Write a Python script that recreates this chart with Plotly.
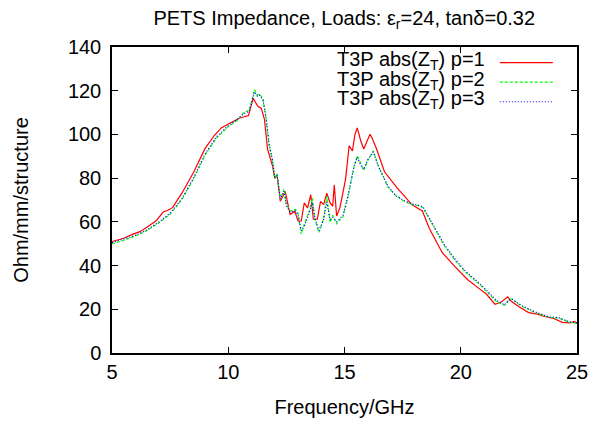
import plotly.graph_objects as go

# ---- data ----
freq_p1 = [5.0, 5.5, 5.9, 6.2, 6.5, 6.9, 7.2, 7.4, 7.6, 8.0, 8.5, 9.0, 9.4, 9.7, 10.1, 10.5,
           10.87, 11.07, 11.28, 11.42, 11.56, 11.69, 11.9, 12.0, 12.1, 12.24, 12.45, 12.66,
           12.86, 13.0, 13.14, 13.27, 13.41, 13.55, 13.66, 13.83, 13.97, 14.1, 14.24, 14.38,
           14.49, 14.56, 14.66, 14.8, 14.93, 15.05, 15.2, 15.34, 15.45, 15.55, 15.7, 15.83,
           15.97, 16.1, 16.2, 16.38, 16.72, 17.0, 17.27, 17.6, 17.89, 18.24, 18.35, 18.65,
           19.2, 19.75, 20.3, 20.85, 21.1, 21.47, 21.75, 22.02, 22.16, 22.5, 22.92, 23.3,
           23.6, 24.0, 24.37, 24.7, 24.9, 25.0]
zt_p1 = [51, 52.5, 54.4, 55.5, 57.5, 60.5, 64.5, 65.3, 66.5, 73, 82.5, 93.5, 99.5, 103, 105.3,
         107.5, 108.6, 116.5, 112.8, 112, 106.8, 93.3, 85.8, 79.9, 81.4, 69.4, 73.9, 63.4,
         64.9, 60.4, 60.4, 68.7, 66.4, 72.4, 61.2, 61.2, 69.4, 67.9, 73.1, 68.7, 67.2, 76.9,
         62.7, 66.4, 73.1, 79.9, 94.8, 92.5, 100, 103, 97, 93.3, 97, 100.1, 98, 93.3, 82.9,
         79, 75.4, 71.5, 67.9, 65.7, 65, 57, 46, 39.5, 33.5, 29, 27, 22.3, 23.3, 25.7, 23.8,
         21.2, 18.5, 17.8, 16.7, 15.8, 14, 13.8, 14.5, 13.5]

freq_p2 = [5.0, 5.5, 6.0, 6.5, 7.0, 7.5, 8.0, 8.5, 9.0, 9.5, 10.0, 10.4, 10.66, 10.9, 11.0,
           11.13, 11.25, 11.34, 11.49, 11.63, 11.76, 11.9, 12.0, 12.1, 12.24, 12.4, 12.5,
           12.66, 12.9, 13.0, 13.14, 13.27, 13.48, 13.62, 13.72, 13.9, 14.0, 14.1, 14.24,
           14.38, 14.5, 14.66, 14.8, 14.93, 15.14, 15.27, 15.41, 15.55, 15.7, 15.83, 16.0,
           16.24, 16.45, 16.86, 17.2, 17.55, 17.9, 18.24, 18.38, 18.79, 19.3, 19.75, 20.2,
           20.85, 21.54, 21.88, 22.08, 22.2, 22.6, 23.2, 23.8, 24.2, 24.7, 25.0]
zt_p2 = [50, 51.5, 53.5, 56, 59.5, 63.5, 70, 79.5, 90.5, 98.5, 103.5, 106.5, 110, 111, 115,
         120.5, 118, 118.5, 116.5, 106.8, 94.8, 88, 80, 82, 70, 75, 68, 65, 65.7, 64, 54.4,
         58.9, 64.9, 70.9, 61.2, 55.2, 58, 62, 71.7, 59.7, 63, 58.9, 61, 62, 70.9, 78.4, 85,
         90.3, 87, 83.6, 88, 92.5, 85.8, 76.1, 72, 69.4, 68, 67.2, 66.4, 58.5, 49, 42.5, 37,
         31, 23.5, 21.8, 24.5, 24.8, 21.5, 18.5, 16.3, 16, 14, 13.5]

freq_p3 = [5.0, 5.5, 6.0, 6.5, 7.0, 7.5, 8.0, 8.5, 9.0, 9.5, 10.0, 10.4, 10.66, 10.9, 11.0,
           11.13, 11.25, 11.34, 11.49, 11.63, 11.76, 11.9, 12.0, 12.1, 12.24, 12.4, 12.5,
           12.66, 12.9, 13.0, 13.14, 13.27, 13.48, 13.62, 13.72, 13.9, 14.0, 14.1, 14.24,
           14.38, 14.5, 14.66, 14.8, 14.93, 15.14, 15.27, 15.41, 15.55, 15.7, 15.83, 16.0,
           16.24, 16.45, 16.86, 17.2, 17.55, 17.9, 18.24, 18.38, 18.79, 19.3, 19.75, 20.2,
           20.85, 21.54, 21.88, 22.08, 22.2, 22.6, 23.2, 23.8, 24.2, 24.7, 25.0]
zt_p3 = [50.5, 52, 53.8, 56.3, 59.8, 64, 70.5, 80, 91, 99, 104, 107, 109.5, 110.5, 114,
         119.5, 117.5, 118, 116, 107.5, 95.5, 88.5, 80.5, 81.5, 70.5, 74, 67.5, 64.5, 65,
         63, 56, 58, 64, 69, 62, 56, 58.5, 61, 69, 61, 62, 60, 61.5, 63, 71.5, 79, 85.5,
         89.5, 86, 84, 88.5, 92, 85.5, 76.5, 72, 69.8, 68.2, 67.5, 66.8, 59, 49.5, 43, 37.5,
         31.5, 24, 22, 24.2, 24.6, 21.8, 18.8, 16.5, 16.2, 14.2, 13.8]

x_ticks = [5, 10, 15, 20, 25]
y_ticks = [0, 20, 40, 60, 80, 100, 120, 140]
series_names = ["T3P abs(Z<sub>T</sub>) p=1", "T3P abs(Z<sub>T</sub>) p=2", "T3P abs(Z<sub>T</sub>) p=3"]

FONT = "Liberation Sans, Arial, sans-serif"
colors = ["#ff0000", "#00ff00", "#0000ff"]
dashes = ["solid", "3px,2px", "1px,2px"]

fig = go.Figure()
for fx, zy, name, c, d in zip([freq_p1, freq_p2, freq_p3], [zt_p1, zt_p2, zt_p3],
                              series_names, colors, dashes):
    fig.add_trace(go.Scatter(x=fx, y=zy, mode="lines", name=name,
                             line=dict(color=c, width=1.2, dash=d), showlegend=False))

# gnuplot-style key: text right-aligned, sample line to its right
key_y = [0.949, 0.885, 0.821]
for name, c, d, ky in zip(series_names, colors, dashes, key_y):
    fig.add_annotation(xref="paper", yref="paper", x=0.807, y=ky + 0.006, text=name,
                       showarrow=False, xanchor="right", yanchor="middle",
                       font=dict(family=FONT, size=20, color="black"))
    fig.add_shape(type="line", xref="paper", yref="paper", x0=0.834, x1=0.948, y0=ky, y1=ky,
                  line=dict(color=c, width=1.2, dash=d))

axis_common = dict(ticks="inside", ticklen=6, tickcolor="black", tickwidth=1,
                   showline=True, linecolor="black", linewidth=1.5, mirror="allticks",
                   showgrid=False, zeroline=False,
                   tickfont=dict(family=FONT, size=20, color="black"),
                   title_font=dict(family=FONT, size=20, color="black"))

# the page body has an 8px margin, so the figure is made 8px smaller on each axis
fig.update_layout(
    width=592, height=419,
    margin=dict(l=95, r=15, t=39, b=68),
    paper_bgcolor="white", plot_bgcolor="white",
    title=dict(text="PETS Impedance, Loads: ε<sub>r</sub>=24, tanδ=0.32",
               x=0.568, xanchor="center", y=0.976, yanchor="middle",
               font=dict(family=FONT, size=20, color="black")),
    xaxis=dict(range=[5, 25], tickvals=x_ticks, title=dict(text="Frequency/GHz", standoff=18),
               **axis_common),
    yaxis=dict(range=[0, 140], tickvals=y_ticks, ticklabelstandoff=5,
               title=dict(text="Ohm/mm/structure", standoff=34),
               **axis_common),
)

fig.write_html("out.html")
